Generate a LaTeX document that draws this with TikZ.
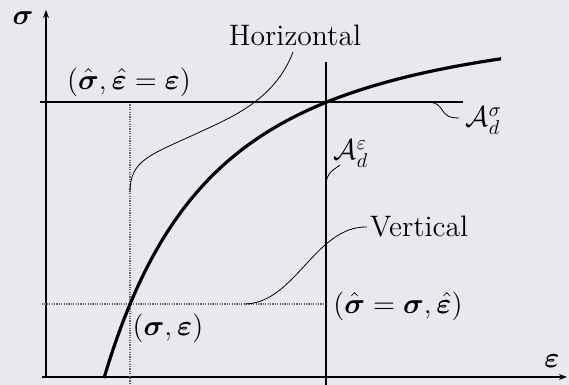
\documentclass[tikz,border=0pt]{standalone}
\usepackage{amsmath,bm}
\usetikzlibrary{arrows.meta}
\definecolor{bg}{RGB}{232,233,238}
\begin{document}
\begin{tikzpicture}[x=0.5pt,y=-0.5pt,
  lbl/.style={font=\fontsize{14.8}{18}\selectfont, inner sep=0pt},
  axis/.style={line width=0.7pt},
  guide/.style={line width=0.6pt},
  dotline/.style={line width=0.55pt, black!60, dash pattern=on 0.6pt off 0.6pt},
  leader/.style={line width=0.4pt},
  curve/.style={line width=1.6pt}]
\fill[bg] (0,0) rectangle (569,385);
\useasboundingbox (0,0) rectangle (569,385);
% axes
\coordinate (xa0) at (42,377);
\coordinate (xa1) at (567,377);
\coordinate (ya0) at (46,377);
\coordinate (ya1) at (46,10);
\draw[axis,-{Stealth[length=4pt,width=3pt]}] (xa0) -- (xa1);
\draw[axis,-{Stealth[length=4pt,width=3pt]}] (ya0) -- (ya1);
\node[lbl] (sig) at (23,18) {$\bm{\sigma}$};
\node[lbl] (eps) at (552,361) {$\bm{\varepsilon}$};
% dotted lines
\coordinate (dv0) at (130,102);
\coordinate (dv1) at (130,385);
\coordinate (dh0) at (42,304);
\coordinate (dh1) at (326,304);
\draw[dotline] (dv0) -- (dv1);
\draw[dotline] (dh0) -- (dh1);
% guide lines
\coordinate (h0) at (40,102);
\coordinate (h1) at (463,102);
\coordinate (v0) at (326,62);
\coordinate (v1) at (326,385);
\draw[guide] (h0) -- (h1);
\draw[guide] (v0) -- (v1);
% curve
\draw[curve,line cap=butt] plot[domain=104:501,samples=80,smooth] (\x,{385-371.8*(1-1/((1+(\x-102)/215)^2))});
% labels
\node[lbl] (p1) at (129,82) {$(\hat{\bm{\sigma}},\hat{\bm{\varepsilon}}=\bm{\varepsilon})$};
\node[lbl] (p2) at (168,328) {$(\bm{\sigma},\bm{\varepsilon})$};
\node[lbl] (p3) at (398,306) {$(\hat{\bm{\sigma}}=\bm{\sigma},\hat{\bm{\varepsilon}})$};
\node[lbl] (hor) at (295,35) {Horizontal};
\node[lbl] (ver) at (419,227) {Vertical};
\node[lbl] (ads) at (484,121) {$\mathcal{A}_d^{\sigma}$};
\node[lbl] (ade) at (351,154) {$\mathcal{A}_d^{\varepsilon}$};
% leaders
\coordinate (hs) at (293,52);
\coordinate (hm) at (200,132);
\coordinate (he) at (130,192);
\draw[leader] (hs) .. controls (275,100) and (230,118) .. (hm) .. controls (150,155) and (130,160) .. (he);
\coordinate (vs) at (367,227);
\coordinate (ve) at (244,304);
\draw[leader] (vs) .. controls (315,226) and (295,304) .. (ve);
\coordinate (ss) at (426,102);
\coordinate (se) at (459,118);
\draw[leader] (ss) .. controls (448,102) and (436,118) .. (se);
\coordinate (es) at (326,186);
\coordinate (ee) at (340,165);
\draw[leader] (es) .. controls (326,172) and (334,170) .. (ee);
\end{tikzpicture}
\end{document}
